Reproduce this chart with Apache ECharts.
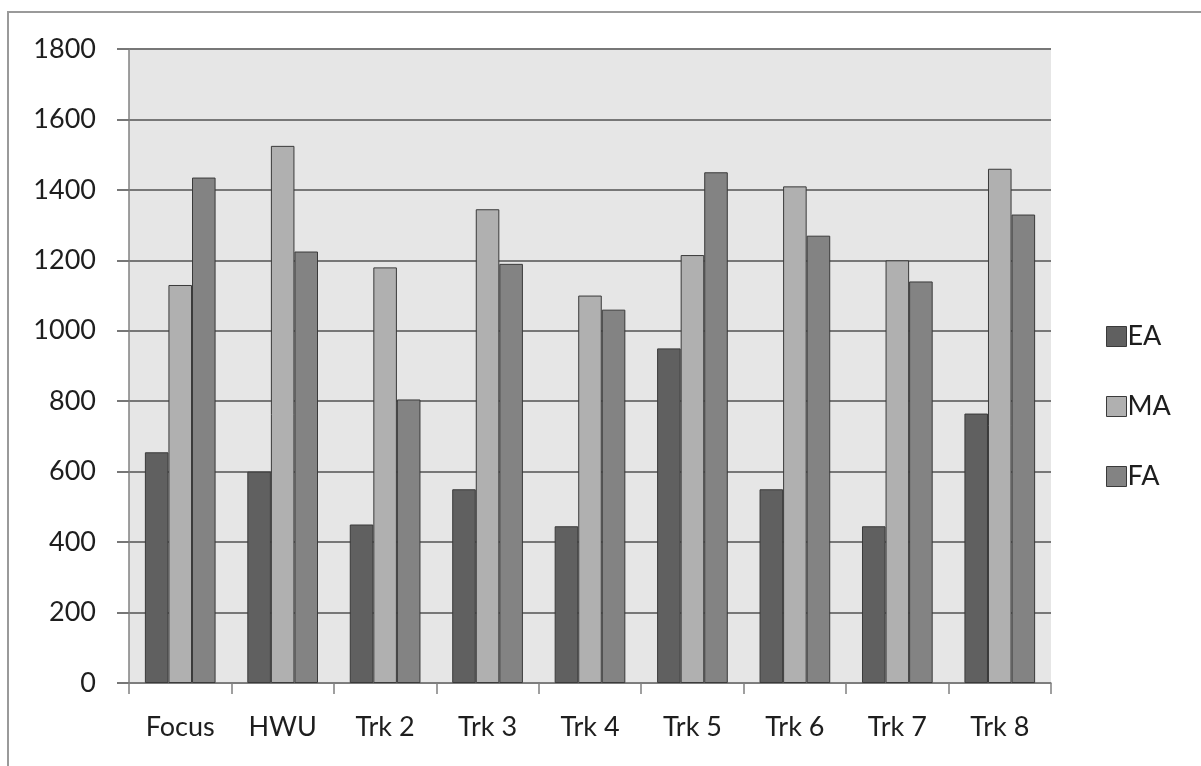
<!DOCTYPE html>
<html>
<head>
<meta charset="utf-8">
<script src="https://cdn.jsdelivr.net/npm/echarts@6/dist/echarts.min.js"></script>
<style>
  html, body { margin: 0; padding: 0; background: #ffffff; }
  #chart { width: 1201px; height: 766px; }
</style>
</head>
<body>
<div id="chart"></div>
<script>
// Categories and series values
var categories = ['Focus', 'HWU', 'Trk 2', 'Trk 3', 'Trk 4', 'Trk 5', 'Trk 6', 'Trk 7', 'Trk 8'];
var eaValues = [655, 600, 450, 550, 445, 950, 550, 445, 765];
var maValues = [1130, 1525, 1180, 1345, 1100, 1215, 1410, 1200, 1460];
var faValues = [1435, 1225, 805, 1190, 1060, 1450, 1270, 1140, 1330];
var seriesNames = ['EA', 'MA', 'FA'];
var yTicks = { min: 0, max: 1800, interval: 200 };

var fontFamily = 'Lato, "Open Sans", sans-serif';
var textColor = '#1e1e1e';
var barColors = ['#606060', '#b0b0b0', '#838383'];

function makeSeries(name, data, color) {
  return {
    name: name,
    type: 'bar',
    data: data,
    barGap: '0%',
    barCategoryGap: '31%',
    itemStyle: { color: color, borderColor: '#3a3a3a', borderWidth: 1 },
    emphasis: { disabled: true }
  };
}

var chart = echarts.init(document.getElementById('chart'), null, { renderer: 'canvas' });
chart.setOption({
  animation: false,
  backgroundColor: '#ffffff',
  graphic: [{
    type: 'rect',
    shape: { x: 8, y: 12, width: 1400, height: 900 },
    style: { fill: 'none', stroke: '#9a9a9a', lineWidth: 2 },
    silent: true
  }],
  grid: {
    left: 129, top: 49, right: 150, bottom: 83,
    show: true,
    backgroundColor: '#e6e6e6',
    borderWidth: 0
  },
  legend: {
    orient: 'vertical',
    left: 1101,
    top: 318,
    itemWidth: 20,
    itemHeight: 20,
    itemGap: 43,
    icon: 'rect',
    data: seriesNames,
    textStyle: { fontFamily: fontFamily, fontSize: 27, color: textColor, padding: [0, 0, 0, -4] },
    itemStyle: { borderColor: '#3a3a3a', borderWidth: 1 }
  },
  xAxis: {
    type: 'category',
    data: categories,
    boundaryGap: true,
    axisLine: { show: true, lineStyle: { color: '#808080', width: 1.5 } },
    axisTick: { show: true, alignWithLabel: false, length: 11, lineStyle: { color: '#808080', width: 1.5 } },
    axisLabel: { fontFamily: fontFamily, fontSize: 27, color: textColor, margin: 31, interval: 0 },
    splitLine: { show: false }
  },
  yAxis: {
    type: 'value',
    min: yTicks.min,
    max: yTicks.max,
    interval: yTicks.interval,
    axisLine: { show: true, lineStyle: { color: '#808080', width: 1.5 } },
    axisTick: { show: true, length: 12, lineStyle: { color: '#777777', width: 2 } },
    axisLabel: {
      fontFamily: fontFamily, fontSize: 27, color: textColor, margin: 33,
      formatter: function (v) { return String(v); }
    },
    splitLine: { show: true, lineStyle: { color: '#777777', width: 2 } }
  },
  series: [
    makeSeries(seriesNames[0], eaValues, barColors[0]),
    makeSeries(seriesNames[1], maValues, barColors[1]),
    makeSeries(seriesNames[2], faValues, barColors[2])
  ]
});
</script>
</body>
</html>
